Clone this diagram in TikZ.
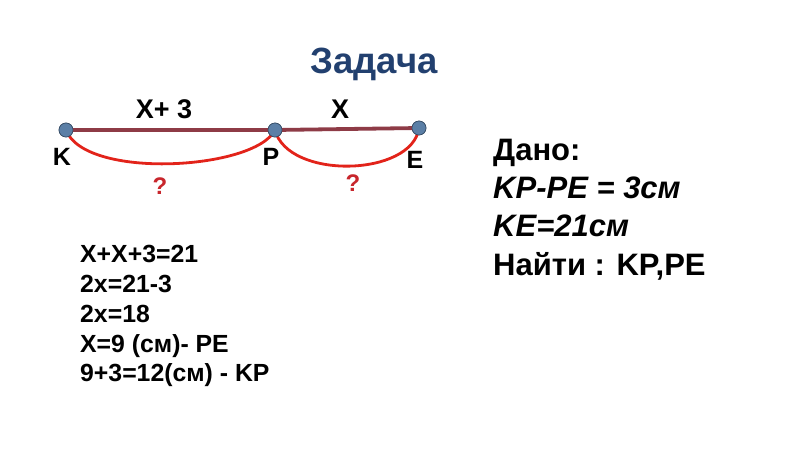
\documentclass[tikz,border=0pt]{standalone}
\usepackage{fontspec}
\setmainfont{Liberation Sans}
\definecolor{titleblue}{HTML}{22406F}
\definecolor{segcol}{HTML}{8E3B46}
\definecolor{dotcol}{HTML}{5B7FA6}
\definecolor{arccol}{HTML}{E2231A}
\definecolor{qcol}{HTML}{C8262C}
\begin{document}
\begin{tikzpicture}[x=1pt,y=-1pt,
  pt/.style={circle,fill=dotcol,draw=dotcol!60!black,line width=0.6pt,minimum size=14pt,inner sep=0pt},
  lbl/.style={font=\fontsize{25}{27}\selectfont\bfseries,anchor=base,inner sep=0pt},
  qm/.style={font=\fontsize{24}{26}\selectfont\bfseries,text=qcol,anchor=base,inner sep=0pt},
  seg/.style={segcol,line width=3.8pt},
  arcl/.style={arccol,line width=2.8pt},
  calc/.style={font=\fontsize{24.8}{26}\selectfont\bfseries,anchor=base west,inner sep=0pt},
  given/.style={font=\fontsize{31}{33}\selectfont\bfseries,anchor=base west,inner sep=0pt}]
\useasboundingbox (0,0) rectangle (800,450);
\node[font=\fontsize{36.5}{38}\selectfont\bfseries,text=titleblue,anchor=base,inner sep=0pt] (title) at (374,73) {Задача};
\node[pt] (K) at (66,130) {};
\node[pt] (P) at (275,130) {};
\node[pt] (E) at (419,128) {};
\draw[seg] (K.center) -- (P.center) -- (E.center);
\draw[arcl] (K.center) .. controls (85,180) and (255,170) .. (P.center);
\draw[arcl] (P.center) .. controls (288,180) and (412,177) .. (E.center);
\node[pt] at (K) {};
\node[pt] at (P) {};
\node[pt] at (E) {};
\node[lbl,font=\fontsize{27}{29}\selectfont\bfseries] (l1) at (164,118) {X+ 3};
\node[lbl,font=\fontsize{27}{29}\selectfont\bfseries] (l2) at (340,118) {X};
\node[lbl] (kl) at (62,165) {K};
\node[lbl] (pl) at (271,165) {P};
\node[lbl] (el) at (415,168) {E};
\node[qm] (q1) at (160,194) {?};
\node[qm] (q2) at (353,191) {?};
\node[calc] (c1) at (80,262) {X+X+3=21};
\node[calc] (c2) at (80,292) {2x=21-3};
\node[calc] (c3) at (80,322) {2x=18};
\node[calc] (c4) at (80,352) {X=9 (см)- PE};
\node[calc] (c5) at (80,381) {9+3=12(см) - KP};
\node[given] (g1) at (493,160) {Дано:};
\node[given,font=\fontsize{31}{33}\selectfont\bfseries\itshape] (g2) at (493,198) {KP-PE = 3см};
\node[given,font=\fontsize{31}{33}\selectfont\bfseries\itshape] (g3) at (493,236) {KE=21см};
\node[given] (g4) at (493,275) {Найти : KP,PE};
\end{tikzpicture}
\end{document}
